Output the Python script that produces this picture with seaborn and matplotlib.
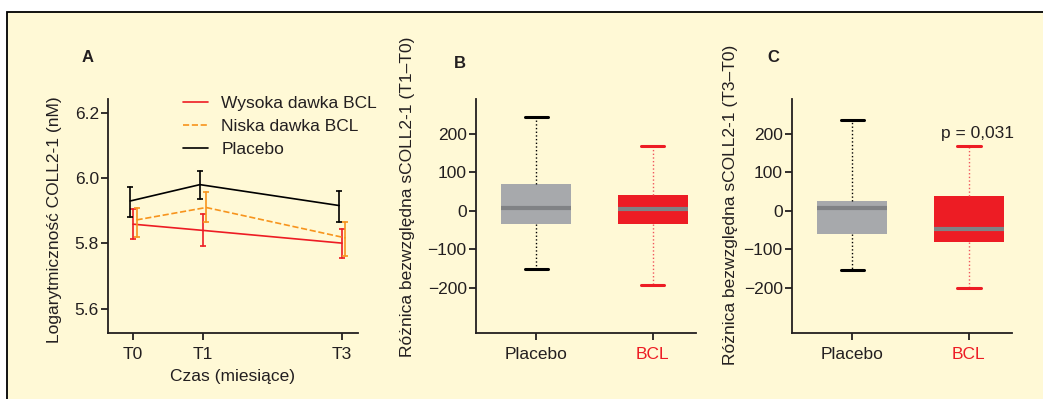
"""
COLL2-1: panel A (log values over time), panels B/C (change vs T0)
"""
from matplotlib import pyplot as plt
import matplotlib.patches as mpatches
import pandas as pd
import numpy as np
import seaborn as sns

# panel A: months, point value and error bar ends (low, high)
czas = [0, 1, 3]
czas_labels = ['T0', 'T1', 'T3']
seria_a = ['Wysoka dawka BCL', 'Niska dawka BCL', 'Placebo']
wysoka_mid = [5.859, 5.840, 5.801]
wysoka_lo = [5.813, 5.791, 5.754]
wysoka_hi = [5.904, 5.889, 5.845]
niska_mid = [5.872, 5.910, 5.817]
niska_lo = [5.820, 5.865, 5.762]
niska_hi = [5.910, 5.957, 5.867]
placebo_mid = [5.930, 5.980, 5.916]
placebo_lo = [5.882, 5.935, 5.867]
placebo_hi = [5.973, 6.021, 5.962]

# panels B and C: min, Q1, median, Q3, max
grupy = ['Placebo', 'BCL']
b_placebo = [-152, -35, 6, 70, 242]
b_bcl = [-194, -35, 4, 41, 169]
c_placebo = [-154, -60, 6, 25, 235]
c_bcl = [-200, -82, -49, 38, 168]

KREM = '#fff9d6'
TXT = '#231f20'
CZERWONY = '#ed1c24'
POMARANCZ = '#f7941d'
SZARY = '#a7a9ac'
SZARY_MED = '#808285'

sns.set_style('ticks')
plt.rcParams['font.family'] = ['Liberation Sans', 'DejaVu Sans']
plt.rcParams['font.size'] = 12.5
plt.rcParams['text.color'] = TXT
plt.rcParams['axes.labelcolor'] = TXT
plt.rcParams['xtick.color'] = TXT
plt.rcParams['ytick.color'] = TXT

fig = plt.figure(figsize=(10.43, 3.99), dpi=100, facecolor='white')
tlo = mpatches.Rectangle((7 / 1043, -0.05), 1.2, 1.05 - 12 / 399,
                         transform=fig.transFigure, facecolor=KREM,
                         edgecolor='black', linewidth=1.3, zorder=-10)
fig.patches.append(tlo)

bottom = (399 - 333) / 399
height = 234 / 399
ax_a = fig.add_axes([108 / 1043, bottom, 250 / 1043, height])
ax_b = fig.add_axes([475.7 / 1043, bottom, 220 / 1043, height])
ax_c = fig.add_axes([791.7 / 1043, bottom, 220.3 / 1043, height])

def _styl(ax):
    ax.set_facecolor('none')
    sns.despine(ax=ax)
    for s in ['left', 'bottom']:
        ax.spines[s].set_linewidth(1.3)
        ax.spines[s].set_color(TXT)
    ax.tick_params(axis='both', length=5, width=1.3, labelsize=12.5)
    ax.tick_params(axis='y', pad=1.5)
    ax.tick_params(axis='x', pad=5)

# ---- panel A
przesun = {'Wysoka dawka BCL': 0.0, 'Niska dawka BCL': 0.05, 'Placebo': -0.04}
kolory = {'Wysoka dawka BCL': CZERWONY, 'Niska dawka BCL': POMARANCZ, 'Placebo': 'black'}
linie = {'Wysoka dawka BCL': '-', 'Niska dawka BCL': '--', 'Placebo': '-'}
wartosci = {
    'Wysoka dawka BCL': (wysoka_lo, wysoka_mid, wysoka_hi),
    'Niska dawka BCL': (niska_lo, niska_mid, niska_hi),
    'Placebo': (placebo_lo, placebo_mid, placebo_hi),
}
for nazwa in seria_a:
    rows = []
    for i, t in enumerate(czas):
        for arr in wartosci[nazwa]:
            rows.append([t + przesun[nazwa], arr[i]])
    d = pd.DataFrame(rows, columns=['czas', 'val'])
    sns.lineplot(data=d, x='czas', y='val', estimator='median',
                 errorbar=('pi', 100), err_style='bars', color=kolory[nazwa],
                 linestyle=linie[nazwa], linewidth=1.2, label=nazwa, ax=ax_a,
                 err_kws=dict(capsize=2.2, elinewidth=1.2, capthick=1.2))
ax_a.set_xlim(-0.36, 3.23)
ax_a.set_ylim(5.526, 6.242)
ax_a.set_xticks(czas)
ax_a.set_xticklabels(czas_labels)
ax_a.set_yticks([5.6, 5.8, 6.0, 6.2])
ax_a.set_xlabel('Czas (miesiące)', labelpad=5)
ax_a.set_ylabel('Logarytmiczność COLL2-1 (nM)')
ax_a.yaxis.set_label_coords(-0.184, 0.483)
ax_a.legend(loc='upper left', bbox_to_anchor=(0.30, 1.015), frameon=False,
            borderpad=0, borderaxespad=0, handlelength=1.45, handletextpad=0.75,
            labelspacing=0.46, fontsize=12.5)
_styl(ax_a)

# ---- panels B, C
def _box(ax, placebo, bcl, etykieta, y_lab):
    for g, vals, kol, wh in [('Placebo', placebo, SZARY, 'black'),
                             ('BCL', bcl, CZERWONY, '#f0565c')]:
        d = pd.DataFrame({'grupa': g, 'val': vals})
        sns.boxplot(data=d, x='grupa', y='val', order=grupy, whis=(0, 100),
                    color=kol, saturation=1, width=0.6, ax=ax,
                    boxprops=dict(facecolor=kol, edgecolor=kol, linewidth=0),
                    medianprops=dict(color=SZARY_MED, linewidth=3),
                    whiskerprops=dict(color=wh, linestyle=':', linewidth=1),
                    capprops=dict(color=kol if g == 'BCL' else 'black', linewidth=2.2),
                    capwidths=0.2)
    ax.set_xlim(-0.52, 1.37)
    ax.set_ylim(-318, 290)
    ax.set_yticks([-200, -100, 0, 100, 200])
    ax.set_yticklabels(['\u2212200', '\u2212100', '0', '100', '200'])
    ax.set_xlabel('')
    ax.set_ylabel(etykieta)
    ax.yaxis.set_label_coords(*y_lab)
    _styl(ax)
    ax.get_xticklabels()[1].set_color(CZERWONY)

_box(ax_b, b_placebo, b_bcl, 'Różnica bezwzględna sCOLL2-1 (T1\u2013T0)', (-0.276, 0.584))
_box(ax_c, c_placebo, c_bcl, 'Różnica bezwzględna sCOLL2-1 (T3\u2013T0)', (-0.242, 0.549))
ax_c.text(1.07, 200, 'p = 0,031', ha='center', va='center', fontsize=12.5)

for lit, x, y in [('A', 88, 58), ('B', 460, 63), ('C', 773, 58)]:
    fig.text(x / 1043, 1 - y / 399, lit, ha='center', va='center',
             fontsize=12, fontweight='bold')

plt.savefig('out.png', dpi=100, facecolor='white')
